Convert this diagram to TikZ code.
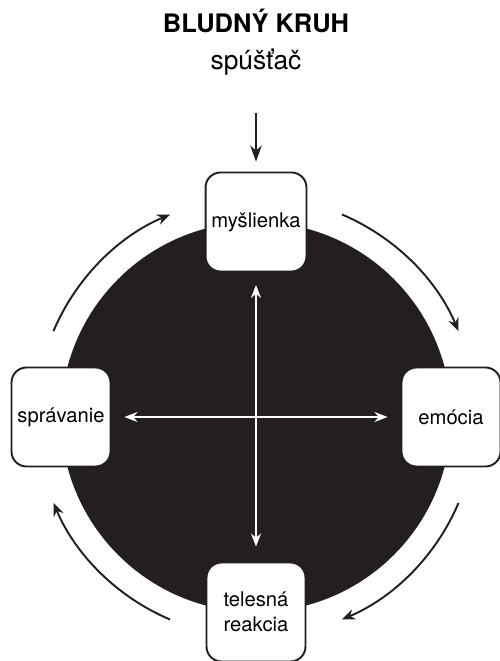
\documentclass[tikz,border=0pt]{standalone}
\usepackage{fontspec}
\setmainfont{TeX Gyre Heros}
\usetikzlibrary{arrows.meta, positioning}
\definecolor{ink}{HTML}{231F20}

\begin{document}
\begin{tikzpicture}[
    stage/.style={draw=ink, fill=white, line width=1.1pt, rounded corners=0.3cm,
                  minimum size=1.98cm, align=center, font=\fontsize{11.5}{14}\selectfont},
    around/.style={draw=ink, line width=1.1pt, -{Stealth[length=2.6mm,width=2.1mm]}},
    trigger/.style={draw=ink, line width=1.1pt, -{Stealth[length=3.2mm,width=2.3mm]}},
    cross/.style={draw=white, line width=0.8pt, {Stealth[length=2.6mm,width=2mm]}-{Stealth[length=2.6mm,width=2mm]}}
  ]
    \useasboundingbox (0,0) rectangle (10,13.22);

    \node[anchor=base, font=\fontsize{14.5}{17}\bfseries] (titul) at (5.12,12.56) {BLUDNÝ KRUH};
    \node[anchor=base, font=\fontsize{15}{18}\selectfont] (spustac) at (5.12,11.82) {spúšťač};

    \coordinate (c) at (5.12,4.88);
    \fill[ink] (c) circle[radius=3.9];

    \node[stage] (myslienka) at ([shift={(90:3.9)}]c)  {myšlienka};
    \node[stage] (emocia)    at ([shift={(0:3.9)}]c)   {emócia};
    \node[stage] (telesna)   at ([shift={(270:3.9)}]c) {telesná\\reakcia};
    \node[stage] (spravanie) at ([shift={(180:3.9)}]c) {správanie};

    % spustac do kruhu
    \draw[trigger, shorten <=0.62cm, shorten >=0.2cm] (spustac) -- (myslienka);

    % sipky okolo kruhu
    \foreach \a in {67,-23,-113,157}
      \draw[around] ([shift={(\a:4.4)}]c) arc[start angle=\a, delta angle=-44, radius=4.4];

    % kriz v strede
    \draw[cross, shorten <=0.25cm, shorten >=0.3cm] (myslienka) -- (telesna);
    \draw[cross, shorten <=0.26cm, shorten >=0.26cm] (spravanie) -- (emocia);
\end{tikzpicture}
\end{document}
